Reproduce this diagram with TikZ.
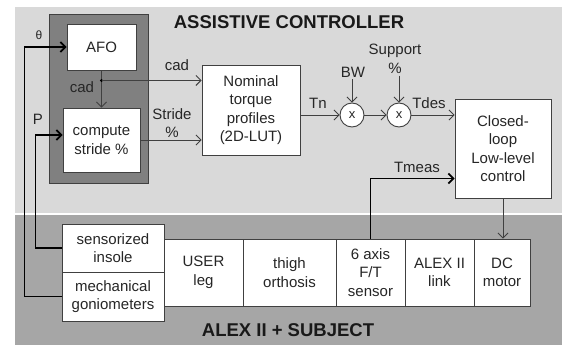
\documentclass[tikz,border=0pt]{standalone}
\usepackage{fontspec}
\setmainfont{Liberation Sans}
\usetikzlibrary{calc, positioning, arrows.meta}
\definecolor{ctrlgray}{HTML}{D9D9D9}
\definecolor{subjgray}{HTML}{A6A6A6}
\definecolor{afogray}{HTML}{808080}
\definecolor{edgegray}{HTML}{404040}

\begin{document}
\begin{tikzpicture}[x=1pt, y=-1pt, >={Straight Barb[length=5pt,width=10pt]},
  blk/.style={draw=edgegray, fill=white, line width=0.9pt, align=center, inner sep=1pt, text=black!85, font=\fontsize{15}{18.5}\selectfont},
  mul/.style={draw=edgegray, fill=white, circle, minimum size=24pt, inner sep=0pt, line width=0.9pt, text=black!85, font=\fontsize{13}{15}\selectfont},
  lbl/.style={font=\fontsize{15}{18.5}\selectfont, align=center, inner sep=2pt, text=black!85},
  sig/.style={edgegray, line width=0.9pt},
  fb/.style={black, line width=1.8pt},
  ttl/.style={font=\fontsize{18.5}{22}\selectfont\bfseries, inner sep=0pt, text=black!90}]
  \useasboundingbox (0,0) rectangle (563,345);
  \fill[ctrlgray] (15,7) rectangle (562,213);
  \fill[subjgray] (15,215) rectangle (562,345);
  \draw[edgegray, fill=afogray, line width=0.9pt] (49,14) rectangle (148,183);

  % controller blocks
  \node[blk, minimum width=69pt, minimum height=46pt] (afo) at (101.5,47) {AFO};
  \node[blk, minimum width=77pt, minimum height=64pt] (comp) at (101.5,140) {compute\\stride \%};
  \node[blk, minimum width=98pt, minimum height=90pt] (nom) at (251,110) {Nominal\\torque\\profiles\\(2D-LUT)};
  \node[mul] (m1) at (352,115) {x};
  \node[mul] (m2) at (399,115) {x};
  \node[blk, minimum width=96pt, minimum height=99pt] (ctrl) at (503,148.5) {Closed-\\loop\\Low-level\\control};

  % subject blocks
  \node[blk, minimum width=102pt, minimum height=48pt] (insole) at (113,248) {sensorized\\insole};
  \node[blk, minimum width=102pt, minimum height=49pt] (gonio) at (113,296.5) {mechanical\\goniometers};
  \node[blk, minimum width=79pt, minimum height=67pt] (leg) at (203.5,272.5) {USER\\leg};
  \node[blk, minimum width=93pt, minimum height=67pt] (thigh) at (289.5,272.5) {thigh\\orthosis};
  \node[blk, minimum width=69pt, minimum height=67pt] (ft) at (370.5,272.5) {6 axis\\F/T\\sensor};
  \node[blk, minimum width=69pt, minimum height=67pt] (link) at (439.5,272.5) {ALEX II\\link};
  \node[blk, minimum width=56pt, minimum height=67pt] (dc) at (502,272.5) {DC\\motor};

  % titles and labels
  \node[ttl] (ctitle) at (289,22) {ASSISTIVE CONTROLLER};
  \node[ttl] (stitle) at (288,330) {ALEX II + SUBJECT};
  \node[lbl, font=\fontsize{12}{14}\selectfont] (theta) at (39,35) {θ};
  \node[lbl] (plbl) at (38,119) {P};
  \node[lbl] (cadlo) at (82,87) {cad};
  \node[lbl] (cadhi) at (177,65) {cad};
  \node[lbl] (stride) at (172,123) {Stride\\\%};
  \node[lbl] (tn) at (318,103) {Tn};
  \node[lbl] (bw) at (353,72) {BW};
  \node[lbl] (supp) at (395,59) {Support\\\%};
  \node[lbl] (tdes) at (429,103) {Tdes};
  \node[lbl] (tmeas) at (417,167) {Tmeas};

  % feedback from sensors
  \draw[fb, ->] (gonio.west) -- ++(-37,0) |- (afo.west);
  \draw[fb, ->] (insole.west) -- ++(-26,0) |- ($(comp.west)+(0,-5)$);
  \draw[fb, ->] (ft.north) |- ($(ctrl.west)+(0,30)$);

  % signal flow
  \coordinate (cadpt) at ($(afo.south)+(0,10)$);
  \draw[sig, ->] (afo.south) -- (comp.north);
  \fill[black] (cadpt) circle (1.6pt);
  \draw[sig, ->] (cadpt) -- (cadpt -| nom.west);
  \draw[sig, ->] (comp.east) -- (comp.east -| nom.west);
  \draw[sig, ->] (m1 -| nom.east) -- (m1);
  \draw[sig, ->] (m1) -- (m2);
  \draw[sig, ->] (m2) -- (m2 -| ctrl.west);
  \draw[sig, ->] (m1 |- bw.south) -- (m1);
  \draw[sig, ->] (m2 |- supp.south) -- (m2);
  \draw[sig, ->] (ctrl.south) -- (ctrl.south |- dc.north);
\end{tikzpicture}
\end{document}
